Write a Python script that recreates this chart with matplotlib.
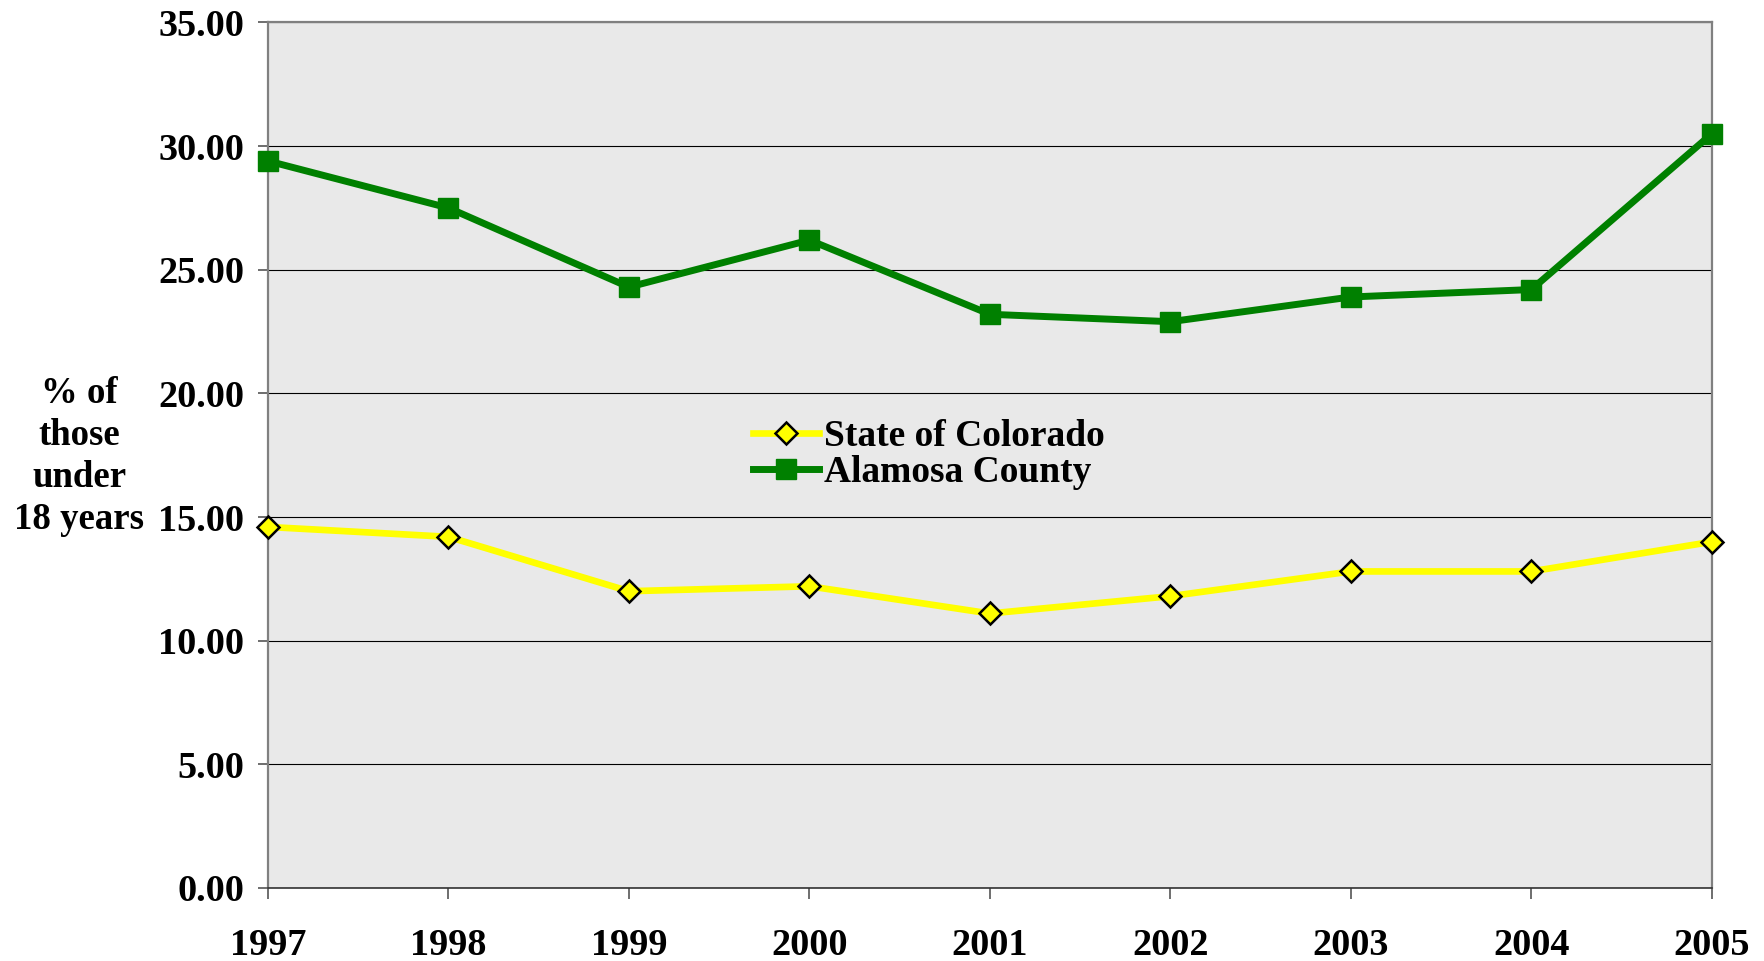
import matplotlib.pyplot as plt

years = [1997, 1998, 1999, 2000, 2001, 2002, 2003, 2004, 2005]
colorado = [14.6, 14.2, 12.0, 12.2, 11.1, 11.8, 12.8, 12.8, 14.0]
alamosa = [29.4, 27.5, 24.3, 26.2, 23.2, 22.9, 23.9, 24.2, 30.5]
yticks = [0, 5, 10, 15, 20, 25, 30, 35]

plt.rcParams['font.family'] = ['Liberation Serif', 'DejaVu Serif']
plt.rcParams['font.weight'] = 'bold'

fig = plt.figure(figsize=(17.65, 9.61), dpi=100)
ax = fig.add_axes([0.1518, 0.076, 0.8181, 0.9006])
ax.set_facecolor('#e9e9e9')

ax.plot(years, colorado, color='#ffff00', linewidth=4.8, marker='D', markersize=11,
        markerfacecolor='#ffff00', markeredgecolor='black', markeredgewidth=1.8,
        label='State of Colorado', clip_on=False, zorder=3)
ax.plot(years, alamosa, color='#008000', linewidth=5.0, marker='s', markersize=14,
        markerfacecolor='#008000', markeredgecolor='#008000',
        label='Alamosa County', clip_on=False, zorder=4)

ax.set_xlim(1997, 2005)
ax.set_ylim(0, 35)
ax.set_xticks(years)
ax.set_xticklabels([str(y) for y in years])
ax.set_yticks(yticks)
ax.set_yticklabels(['%.2f' % v for v in yticks])
ax.yaxis.grid(True, color='black', linewidth=0.8)
ax.set_axisbelow(True)

ax.tick_params(axis='both', labelsize=27.5, width=1.2, color='#555555')
ax.tick_params(axis='y', length=7, pad=10)
ax.tick_params(axis='x', length=8, pad=21)

for side in ['left', 'top', 'right']:
    ax.spines[side].set_color('#808080')
    ax.spines[side].set_linewidth(1.6)
ax.spines['bottom'].set_color('#333333')
ax.spines['bottom'].set_linewidth(1.2)

fig.text(0.045, 0.525, '% of\nthose\nunder\n18 years', ha='center', va='center',
         fontsize=26.5, fontweight='bold', linespacing=1.27)

ax.legend(loc='center left', bbox_to_anchor=(0.336, 0.501), frameon=False,
          fontsize=27, handlelength=1.75, handletextpad=0.15, labelspacing=0.03,
          borderpad=0, borderaxespad=0)

fig.savefig('out.png', dpi=100)
